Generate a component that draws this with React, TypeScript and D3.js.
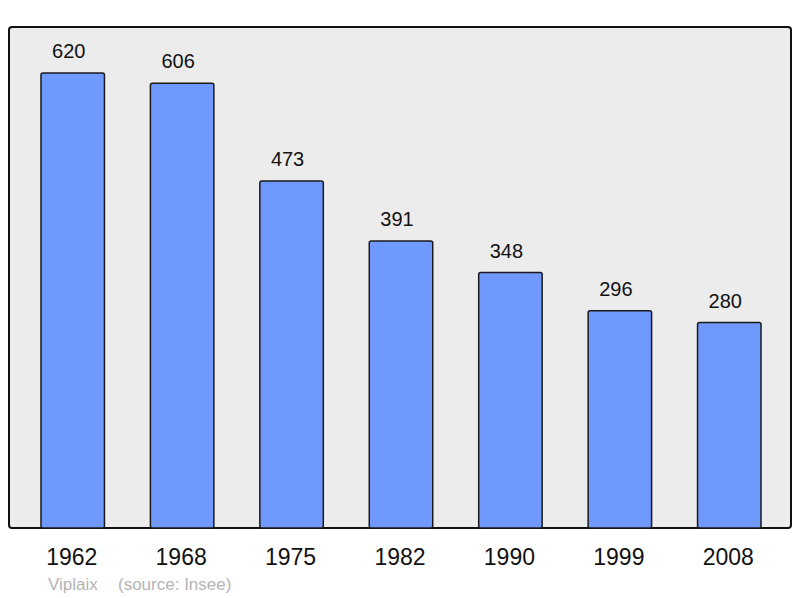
import React from 'react';
import * as d3 from 'd3';

// population by census year
const years = ['1962', '1968', '1975', '1982', '1990', '1999', '2008'];
const population = [620, 606, 473, 391, 348, 296, 280];
const commune = 'Viplaix';
const source = '(source: Insee)';

const W = 800;
const H = 598;
const frame = { left: 9, top: 27, right: 791, bottom: 528 };

const App = () => {
  const x = d3.scaleBand<string>()
    .domain(years)
    .range([18, 784])
    .paddingInner(0.42)
    .paddingOuter(0.21);

  // frame top sits a bit above the tallest bar
  const y = d3.scaleLinear()
    .domain([0, 620 * 501 / 455])
    .range([frame.bottom, frame.top]);

  const font = '"Liberation Sans", Arial, sans-serif';

  return (
    <svg width={W} height={H} style={{ position: 'absolute', left: 0, top: 0 }}>
      <rect x={frame.left} y={frame.top}
        width={frame.right - frame.left} height={frame.bottom - frame.top}
        rx={3} fill="#ececec" stroke="#111" strokeWidth={2} />
      {years.map((yr, i) => {
        const v = population[i];
        const bx = x(yr)!;
        const cx = bx + x.bandwidth() / 2;
        return (
          <g key={yr}>
            <rect x={bx} y={y(v)} width={x.bandwidth()} height={frame.bottom - y(v)}
              rx={2} fill="#7099ff" stroke="#1a1a1a" strokeWidth={1.5} />
            <text x={cx - 4} y={y(v) - 15} textAnchor="middle"
              fontFamily={font} fontSize={20} fill="#111">{v}</text>
            <text x={cx - 1} y={565} textAnchor="middle"
              fontFamily={font} fontSize={23} fill="#111">{yr}</text>
          </g>
        );
      })}
      <text x={48} y={590} fontFamily={font} fontSize={17} fill="#b4b4b4">{commune}</text>
      <text x={118} y={590} fontFamily={font} fontSize={17} fill="#b4b4b4">{source}</text>
    </svg>
  );
};

export default App;
